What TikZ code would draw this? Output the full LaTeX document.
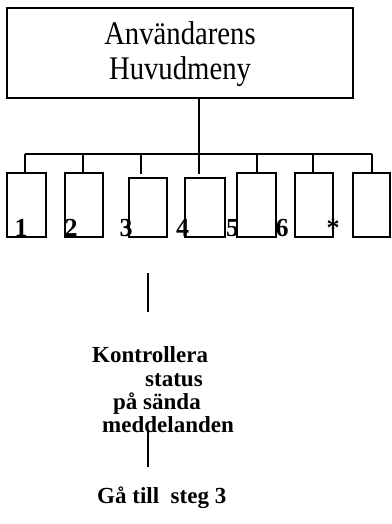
\documentclass[tikz,border=0pt]{standalone}
\usepackage{fontspec}
\setmainfont{Liberation Serif}
\newfontfamily\boldsp{Liberation Serif Bold}
\begin{document}
\begin{tikzpicture}[x=1pt,y=-1pt,
  frame/.style={draw=black,line width=1.4pt},
  conn/.style={draw=black,line width=1.2pt},
  lbl/.style={font=\fontsize{26}{26}\selectfont\bfseries,anchor=base,inner sep=0pt},
  boldtxt/.style={font=\fontsize{23}{23}\boldsp,anchor=base west,inner sep=0pt},
  toptxt/.style={font=\fontsize{33}{33}\addfontfeature{FakeStretch=0.87}\selectfont,anchor=base,inner sep=0pt}]
\useasboundingbox (0,0) rectangle (391,524);
% top box
\draw[frame] (7,8) rectangle (353,98);
\coordinate (topbot) at (199,98);
\node[toptxt] (t1) at (180,45) {Användarens};
\node[toptxt] (t2) at (180,80) {Huvudmeny};
% bus
\coordinate (bus) at (199,154);
\draw[conn] (topbot) -- (bus);
\coordinate (bl) at (25,154);
\coordinate (br) at (372,154);
\draw[conn] (bl) -- (br);
% boxes
\draw[frame] (7,173) rectangle (46,237);
\draw[frame] (65,173) rectangle (103,237);
\draw[frame] (129,178) rectangle (167,237);
\draw[frame] (185,178) rectangle (225,237);
\draw[frame] (237,173) rectangle (276,237);
\draw[frame] (295,173) rectangle (333,237);
\draw[frame] (353,173) rectangle (390,237);
% drops
\foreach \x/\e in {25/173,83/173,141/174,199/174,257/173,313/173,372/173}{
  \draw[conn] (\x,154) -- (\x,\e);
}
% labels
\node[lbl] (l1) at (21,236) {1};
\node[lbl] (l2) at (71,236) {2};
\node[lbl] (l3) at (126,236) {3};
\node[lbl] (l4) at (182.5,236) {4};
\node[lbl] (l5) at (232.5,236) {5};
\node[lbl] (l6) at (282,236) {6};
\node[lbl] (l7) at (333,236) {*};
% lower part
\coordinate (v1a) at (148,273);
\coordinate (v1b) at (148,312);
\draw[conn] (v1a) -- (v1b);
\node[boldtxt] (k1) at (92,362) {Kontrollera};
\node[boldtxt] (k2) at (145,386) {status};
\node[boldtxt] (k3) at (113,409) {på sända};
\node[boldtxt] (k4) at (102,432) {meddelanden};
\coordinate (v2a) at (148,429);
\coordinate (v2b) at (148,467);
\draw[conn] (v2a) -- (v2b);
\node[boldtxt] (g) at (97,503) {Gå till \ steg 3};
\end{tikzpicture}
\end{document}
